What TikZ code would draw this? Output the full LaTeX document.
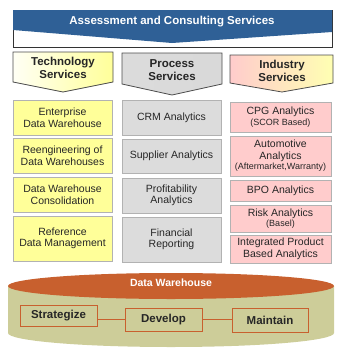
\documentclass[tikz,border=0pt]{standalone}
\usepackage{fontspec}
\setmainfont{Liberation Sans}
\definecolor{bannerblue}{HTML}{2F6096}
\definecolor{techyellow}{HTML}{FFFF99}
\definecolor{procgray}{HTML}{DCDCDC}
\definecolor{indpink}{HTML}{FFCCCC}
\definecolor{dwolive}{HTML}{CDCD99}
\definecolor{dworange}{HTML}{C8602E}

\begin{document}
\begin{tikzpicture}[x=1pt, y=-1pt,
	colbox/.style={draw=gray!60, line width=0.6pt, minimum width=#1, inner sep=1pt, align=center,
		text=black!85, font=\fontsize{10.5}{11.5}\selectfont},
	techbox/.style={colbox=99pt, fill=techyellow},
	procbox/.style={colbox=99pt, fill=procgray},
	indbox/.style={colbox=101pt, fill=indpink},
	chevron/.style={draw=black!70, line width=0.8pt},
	headtext/.style={align=center, text=black!85, font=\fontsize{11.5}{12.5}\selectfont\bfseries},
	stagebox/.style={draw=dworange, line width=1pt, minimum width=#1, inner sep=0pt,
		font=\fontsize{11.5}{12}\selectfont\bfseries, text=black!85},
	small/.style={font=\fontsize{7.5}{8.5}\selectfont\bfseries}
]
	\useasboundingbox (0, 0) rectangle (344, 357);
	% banner
	\draw [black!80, line width=0.8pt, fill=white] (13, 10) rectangle (332, 47);
	\fill [bannerblue] (13, 10) -- (332, 10) -- (332, 32) -- (172, 43) -- (13, 30) -- cycle;
	\node (assess) [white, font=\fontsize{11.5}{12}\selectfont\bfseries] at (172, 22) {Assessment and Consulting Services};

	% chevrons
	\draw [chevron, left color=yellow!4, right color=techyellow]
		(13, 52) -- (113, 52) -- (113, 82) -- (63, 92) -- (13, 82) -- cycle;
	\draw [chevron, left color=gray!28, middle color=gray!10, right color=gray!30]
		(122, 53) -- (222, 53) -- (222, 84) -- (172, 95) -- (122, 84) -- cycle;
	\draw [chevron, left color=indpink, middle color=gray!25!yellow!30, right color=yellow!30]
		(230, 55) -- (333, 55) -- (333, 83) -- (282, 92) -- (230, 83) -- cycle;
	\node (tech) [headtext] at (63, 68) {Technology\\Services};
	\node (proc) [headtext] at (172, 70) {Process\\Services};
	\node (ind) [headtext] at (282, 71) {Industry\\Services};

	% technology column
	\node (edw) [techbox, minimum height=35pt] at (62.5, 117.5) {Enterprise\\Data Warehouse};
	\node (reeng) [techbox, minimum height=35pt] at (62.5, 155.5) {Reengineering of\\Data Warehouses};
	\node (consol) [techbox, minimum height=35pt] at (62.5, 194.5) {Data Warehouse\\Consolidation};
	\node (refdm) [techbox, minimum height=45pt] at (62.5, 238.5) {Reference\\Data Management};

	% process column
	\node (crm) [procbox, minimum height=35pt] at (171.5, 117.5) {CRM Analytics};
	\node (supp) [procbox, minimum height=34pt] at (171.5, 156) {Supplier Analytics};
	\node (profit) [procbox, minimum height=35pt] at (171.5, 195.5) {Profitability\\Analytics};
	\node (fin) [procbox, minimum height=45pt] at (171.5, 239.5) {Financial\\Reporting};

	% industry column
	\node (cpg) [indbox, minimum height=30pt] at (280.5, 117) {CPG Analytics\\[-1pt]{\small (SCOR Based)}};
	\node (auto) [indbox, minimum height=40pt] at (280.5, 156) {Automotive\\Analytics\\[-1pt]{\small (Aftermarket,Warranty)}};
	\node (bpo) [indbox, minimum height=21pt] at (280.5, 190.5) {BPO Analytics};
	\node (risk) [indbox, minimum height=27pt] at (280.5, 218.5) {Risk Analytics\\[-2pt]{\small (Basel)}};
	\node (integ) [indbox, minimum height=28pt] at (280.5, 249) {Integrated Product\\Based Analytics};

	% data warehouse cylinder
	\fill [dwolive] (8, 286) -- (8, 333) arc [start angle=180, end angle=0, x radius=163, y radius=14]
		-- (334, 286) -- cycle;
	\fill [dworange] (171, 286) ellipse [x radius=163, y radius=13];
	\node (dw) [white, font=\fontsize{10.5}{11}\selectfont\bfseries] at (171, 283) {Data Warehouse};

	\node (strat) [stagebox=77pt, minimum height=21pt] at (58.5, 315.5) {Strategize};
	\node (dev) [stagebox=77pt, minimum height=23pt] at (163.5, 319.5) {Develop};
	\node (maint) [stagebox=76pt, minimum height=24pt] at (270, 320) {Maintain};
	\draw [dworange, line width=0.8pt] (strat.east |- dev.west) -- (dev.west);
	\draw [dworange, line width=0.8pt] (dev.east) -- (maint.west |- dev.east);
\end{tikzpicture}
\end{document}
